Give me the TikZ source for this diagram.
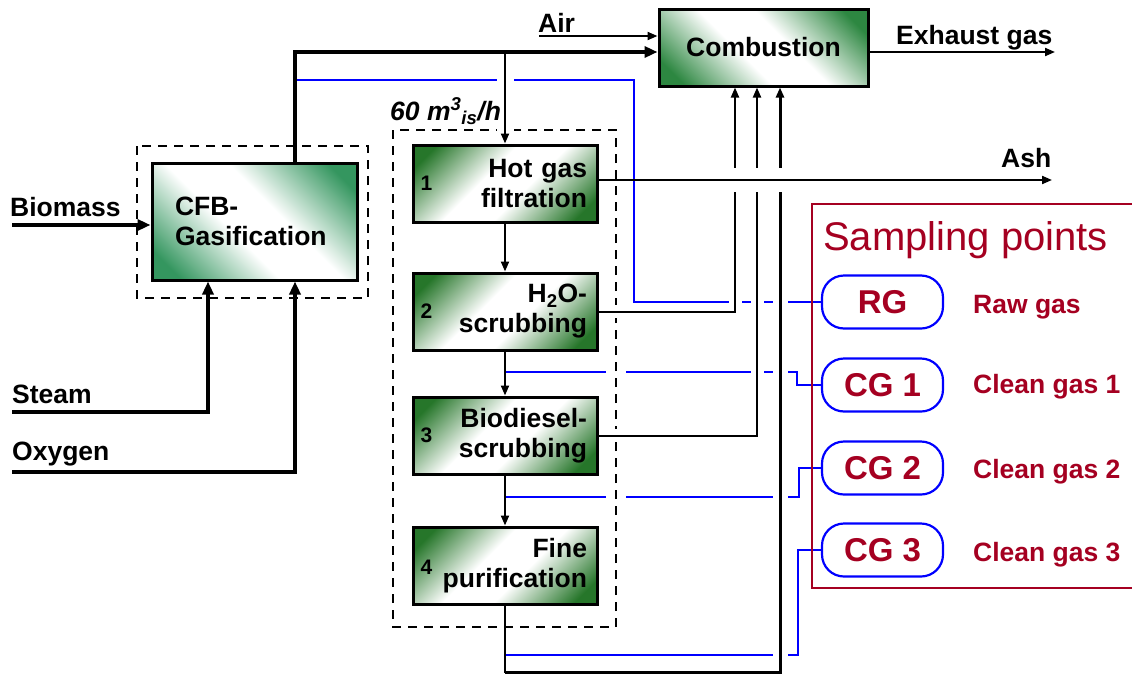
\documentclass[tikz,border=0pt]{standalone}
\usepackage{fontspec}
\setmainfont{Liberation Sans}
\usetikzlibrary{arrows.meta,calc}
\definecolor{cfbgreen}{RGB}{52,150,95}
\definecolor{procgreen}{RGB}{38,118,42}
\definecolor{combgreen}{RGB}{45,135,65}
\definecolor{sampred}{RGB}{165,0,33}
\definecolor{probeblue}{RGB}{0,0,255}
\newcommand{\unitshading}[2]{\pgfdeclareverticalshading{#1}{100bp}{color(0bp)=(#2); color(21bp)=(#2);
  color(43bp)=(white); color(57bp)=(white); color(79bp)=(#2); color(100bp)=(#2)}}
\unitshading{cfbshade}{cfbgreen}
\unitshading{combshade}{combgreen}
\unitshading{procshade}{procgreen}
\pgfdeclarelayer{pipes}
\pgfsetlayers{pipes,main}
\newcommand{\bigfont}{\bfseries\fontsize{26.5}{30}\selectfont}
\tikzset{
  unit/.style     = {draw, line width=3pt, rectangle, shading=#1},
  procbox/.style  = {unit=procshade, shading angle=45, minimum width=184pt,
                     minimum height=77pt, text width=164pt, inner xsep=10pt,
                     align=right, font=\bigfont},
  stepno/.style   = {font=\bfseries\fontsize{21}{21}\selectfont, anchor=west,
                     inner xsep=9pt},
  lab/.style      = {font=\bigfont, inner sep=0pt, anchor=base west},
  flow/.style     = {-{Triangle[length=10pt,width=8pt]}, line width=2pt},
  mainflow/.style = {-{Triangle[length=13pt,width=11pt]}, line width=4pt},
  probe/.style    = {draw=probeblue, line width=2.8pt},
  frame/.style    = {draw, line width=2.5pt, dash pattern=on 9pt off 7pt,
                     preaction={draw=white, line width=20pt, solid}},
  bridge/.style   = {preaction={draw=white, line width=#1, -}},
  spoint/.style   = {draw=probeblue, line width=2.2pt, rounded corners=22pt,
                     fill=white, minimum width=121pt, minimum height=53pt,
                     text=sampred, font=\bfseries\fontsize{33}{33}\selectfont},
  stext/.style    = {lab, text=sampred},
}

\begin{document}
\begin{tikzpicture}[x=1pt,y=-1pt]
\useasboundingbox (0,0) rectangle (1132,675);
% ---------- units ----------
\node[unit=cfbshade, shading angle=-45, minimum width=205pt, minimum height=117pt,
      text width=159pt, inner xsep=23pt, align=left, font=\bigfont] (CFB) at (254.5,221.5) {CFB-\\Gasification};
\node[unit=combshade, shading angle=-45, minimum width=209pt, minimum height=77pt,
      font=\bigfont] (Comb) at (763.5,47.5) {Combustion};
\node[procbox] (HGF) at (505,183.5) {Hot gas\\filtration};
\node[procbox] (H2O) at (505,311.5) {H\textsubscript{2}O-\\scrubbing};
\node[procbox] (BDS) at (505,435.5) {Biodiesel-\\scrubbing};
\node[procbox] (FP)  at (505,565.5) {Fine\\purification};
\node[stepno] (n1) at (HGF.west) {1};
\node[stepno] (n2) at (H2O.west) {2};
\node[stepno] (n3) at (BDS.west) {3};
\node[stepno] (n4) at ([yshift=-2pt]FP.west) {4};
% ---------- sampling points ----------
\node[spoint] (RG)  at (882.5,302) {RG};
\node[spoint] (CG1) at (882.5,385) {CG 1};
\node[spoint] (CG2) at (882.5,468) {CG 2};
\node[spoint] (CG3) at (882.5,550) {CG 3};
\node[lab, font=\fontsize{40}{40}\selectfont, text=sampred] (samphead) at (823,250) {Sampling points};
\node[stext] (rawgas) at (973,313) {Raw gas};
\node[stext] (clean1) at (973,393) {Clean gas 1};
\node[stext] (clean2) at (973,478) {Clean gas 2};
\node[stext] (clean3) at (973,561) {Clean gas 3};
% ---------- stream labels ----------
\node[lab] (biomass) at (10,216) {Biomass};
\node[lab] (steam)   at (12,403) {Steam};
\node[lab] (oxygen)  at (12,460) {Oxygen};
\node[lab] (air)     at (538,32) {Air};
\node[lab] (exhaust) at (896,44) {Exhaust gas};
\node[lab] (ash)     at (1001,167) {Ash};
\node[lab, font=\bigfont\itshape] (rate) at (390,120) {60 m\textsuperscript{3}\textsubscript{is}/h};
% ---------- free ends ----------
\coordinate (biomassin) at (12,225);
\coordinate (steamin)   at (12,412);
\coordinate (oxygenin)  at (12,472);
\coordinate (airin)     at (539,36);
\coordinate (exhout)    at (1055,52);
\coordinate (ashout)    at (1052,180);
\coordinate (splitgas)  at (505,52);
\coordinate (fpcorner)  at (505,672);
\coordinate (tapRG)     at (297,80);
\coordinate (tapCG1)    at (505,372);
\coordinate (tapCG2)    at (505,497);
\coordinate (tapCG3)    at (505,655);
\begin{pgfonlayer}{pipes}
\fill[white] (0,0) rectangle (1132,675);
% sampling lines
\draw[probe] (tapRG) -- (634,80) |- (RG.west);
\draw[probe] (tapCG1) -- (797,372) |- (CG1.west);
\draw[probe] (tapCG2) -- (799,497) |- (CG2.west);
\draw[probe] (tapCG3) -- (798,655) |- (CG3.west);
\draw[sampred, line width=2pt] (1140,204) -| (812,588) -- (1140,588);
% system borders
\draw[frame] (137,146) rectangle (368,298);
\draw[frame] (393,130) rectangle (616,627);
% gas path
\draw[flow, bridge=17pt] (splitgas) -- (HGF.north);
\draw[mainflow] ($(CFB.north)+(40.5,0)$) |- ($(Comb.west)+(0,4.5)$);
\draw[flow] (airin) -- (Comb.west |- airin);
\draw[flow] (Comb.east |- exhout) -- (exhout);
\draw[mainflow] (biomassin) -- (CFB.west |- biomassin);
\draw[mainflow] (steamin) -| ($(CFB.south)+(-46.5,0)$);
\draw[mainflow] (oxygenin) -| ($(CFB.south)+(40.5,0)$);
\draw[flow] (HGF) -- (H2O);
\draw[flow] (H2O) -- (BDS);
\draw[flow] (BDS) -- (FP);
% off-gas to combustion
\draw[flow, bridge=13pt] (H2O.east) -| ($(Comb.south)+(-28.5,0)$);
\draw[flow, bridge=13pt] (BDS.east) -| ($(Comb.south)+(-6.5,0)$);
\draw[flow, line width=3pt, bridge=15pt] (fpcorner) -| ($(Comb.south)+(16.5,0)$);
\draw[line width=2.5pt, line cap=rect] (FP.south) -- (fpcorner);
\draw[flow, preaction={draw=white, line width=24pt, -, shorten <=120pt}] (HGF.east |- ashout) -- (ashout);
\end{pgfonlayer}
\end{tikzpicture}
\end{document}
